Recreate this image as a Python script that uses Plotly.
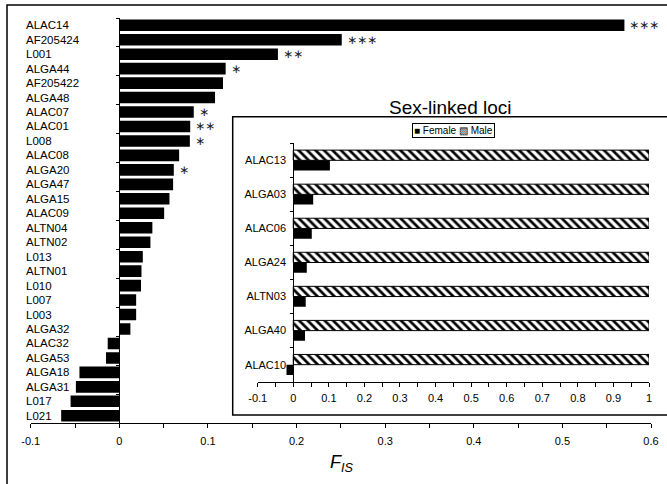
import plotly.graph_objects as go

W, H = 667, 484

# ---------------- data ----------------
main_loci = ["ALAC14", "AF205424", "L001", "ALGA44", "AF205422", "ALGA48", "ALAC07",
             "ALAC01", "L008", "ALAC08", "ALGA20", "ALGA47", "ALGA15", "ALAC09",
             "ALTN04", "ALTN02", "L013", "ALTN01", "L010", "L007", "L003", "ALGA32",
             "ALAC32", "ALGA53", "ALGA18", "ALGA31", "L017", "L021"]
main_fis = [0.570, 0.251, 0.179, 0.120, 0.117, 0.108, 0.084,
            0.080, 0.0796, 0.0675, 0.0615, 0.0607, 0.0566, 0.0506,
            0.0373, 0.0351, 0.0265, 0.025, 0.0245, 0.019, 0.019, 0.0125,
            -0.0131, -0.015, -0.045, -0.049, -0.055, -0.0656]
signif = ["***", "***", "**", "*", "", "", "*",
          "**", "*", "", "*", "", "", "",
          "", "", "", "", "", "", "", "",
          "", "", "", "", "", ""]

sex_loci = ["ALAC13", "ALGA03", "ALAC06", "ALGA24", "ALTN03", "ALGA40", "ALAC10"]
female_fis = [0.103, 0.056, 0.052, 0.038, 0.035, 0.033, -0.019]
male_fis = [1, 1, 1, 1, 1, 1, 1]

main_tickvals = [-0.1, 0, 0.1, 0.2, 0.3, 0.4, 0.5, 0.6]
main_ticktext = ["-0.1", "0", "0.1", "0.2", "0.3", "0.4", "0.5", "0.6"]
inset_tickvals = [-0.1, 0, 0.1, 0.2, 0.3, 0.4, 0.5, 0.6, 0.7, 0.8, 0.9, 1]
inset_ticktext = ["-0.1", "0", "0.1", "0.2", "0.3", "0.4", "0.5", "0.6", "0.7", "0.8", "0.9", "1"]

# ---------------- helpers ----------------
def px(x):
    return x / W

def py(y):
    return 1 - y / H

FONT = "Liberation Sans, Arial, Helvetica, sans-serif"

main_xdom = [px(30.7), px(651)]
main_ydom = [py(423), py(18)]
inset_xdom = [px(257.7), px(649)]
inset_ydom = [py(381.7), py(143.3)]

main_range = [-0.1, 0.6]
inset_range = [-0.1, 1.0]
main_zero_pos = main_xdom[0] + (0 - main_range[0]) / (main_range[1] - main_range[0]) * (main_xdom[1] - main_xdom[0])
inset_zero_pos = inset_xdom[0] + (0 - inset_range[0]) / (inset_range[1] - inset_range[0]) * (inset_xdom[1] - inset_xdom[0])

fig = go.Figure()

# main bars
fig.add_trace(go.Bar(
    y=main_loci, x=main_fis, orientation="h",
    marker=dict(color="black", line=dict(width=0)),
    width=0.8, xaxis="x", yaxis="y", showlegend=False, hoverinfo="x+y",
))

# inset bars
fig.add_trace(go.Bar(
    y=sex_loci, x=male_fis, orientation="h", name="Male",
    marker=dict(color="white", line=dict(color="black", width=1),
                pattern=dict(shape="\\", fgcolor="black", bgcolor="white", size=6, solidity=0.45)),
    width=0.30, offset=-0.30, xaxis="x2", yaxis="y2", showlegend=False,
))
fig.add_trace(go.Bar(
    y=sex_loci, x=female_fis, orientation="h", name="Female",
    marker=dict(color="black", line=dict(width=0)),
    width=0.30, offset=0.0, xaxis="x2", yaxis="y2", showlegend=False,
))

annotations = []
# main category labels (left aligned)
for loc in main_loci:
    annotations.append(dict(
        x=px(24), xref="paper", xanchor="left", y=loc, yref="y", yanchor="middle",
        text=loc, showarrow=False, font=dict(family=FONT, size=11.5, color="black"),
    ))
# significance asterisks
for loc, v, s in zip(main_loci, main_fis, signif):
    if s:
        annotations.append(dict(
            x=v, xref="x", xanchor="left", xshift=3, y=loc, yref="y", yanchor="middle",
            text="∗" * len(s), showarrow=False,
            font=dict(family="DejaVu Sans", size=12, color="#222"),
        ))

annotations += [
    dict(x=px(450.5), y=py(107), xref="paper", yref="paper", text="Sex-linked loci",
         showarrow=False, font=dict(family=FONT, size=19, color="black"),
         xanchor="center", yanchor="middle"),
    dict(x=px(453.3), y=py(130.5), xref="paper", yref="paper",
         text="■ Female ▧ Male", showarrow=False,
         font=dict(family=FONT, size=10, color="black"),
         bordercolor="black", borderwidth=1, borderpad=1, bgcolor="white",
         xanchor="center", yanchor="middle"),
    dict(x=px(341), y=py(463), xref="paper", yref="paper",
         text="<i>F<sub>IS</sub></i>", showarrow=False,
         font=dict(family=FONT, size=18, color="black"),
         xanchor="center", yanchor="middle"),
]

shapes = [
    # outer frame
    dict(type="rect", xref="paper", yref="paper", x0=px(7), y0=-0.05, x1=1.05, y1=py(5),
         line=dict(color="black", width=1.5), fillcolor="rgba(0,0,0,0)", layer="below"),
    # inset frame
    dict(type="rect", xref="paper", yref="paper", x0=px(232.7), y0=py(415), x1=1.05, y1=py(116.7),
         line=dict(color="black", width=1.5), fillcolor="white", layer="below"),
]

axis_font = dict(family=FONT, size=11, color="black")

fig.update_layout(
    template="none",
    width=W, height=H, autosize=False,
    margin=dict(l=0, r=0, t=0, b=0, pad=0, autoexpand=False),
    paper_bgcolor="white", plot_bgcolor="rgba(0,0,0,0)",
    barmode="overlay",
    showlegend=False,
    font=dict(family=FONT, color="black"),
    xaxis=dict(domain=main_xdom, range=main_range, anchor="y", automargin=False,
               tickvals=main_tickvals, ticktext=main_ticktext,
               ticks="outside", ticklen=4, tickcolor="black", tickwidth=1,
               minor=dict(tickvals=[-0.05, 0.05, 0.15, 0.25, 0.35, 0.45, 0.55],
                          ticks="outside", ticklen=4, tickcolor="black"),
               showline=True, linecolor="black", linewidth=1,
               showgrid=False, zeroline=False, tickfont=axis_font,
               ticklabelstandoff=4),
    yaxis=dict(domain=main_ydom, type="category", categoryorder="array", automargin=False,
               categoryarray=main_loci, range=[len(main_loci) - 0.5, -0.5],
               anchor="free", position=main_zero_pos,
               showticklabels=False, ticks="outside", ticklen=3, tickson="boundaries",
               tickcolor="black", showline=True, linecolor="black", linewidth=1,
               showgrid=False, zeroline=False),
    xaxis2=dict(domain=inset_xdom, range=inset_range, anchor="y2", automargin=False,
                tickvals=inset_tickvals, ticktext=inset_ticktext,
                ticks="outside", ticklen=4, tickcolor="black",
                minor=dict(tickvals=[-0.05, 0.05, 0.15, 0.25, 0.35, 0.45, 0.55, 0.65, 0.75, 0.85, 0.95],
                           ticks="outside", ticklen=4, tickcolor="black"),
                showline=True, linecolor="black", linewidth=1,
                showgrid=False, zeroline=False, tickfont=axis_font,
                ticklabelstandoff=2),
    yaxis2=dict(domain=inset_ydom, type="category", categoryorder="array", automargin=False,
                categoryarray=sex_loci, range=[len(sex_loci) - 0.5, -0.5],
                anchor="free", position=inset_zero_pos,
                ticks="outside", ticklen=3, tickson="boundaries", tickcolor="black",
                showline=True, linecolor="black", linewidth=1,
                showgrid=False, zeroline=False, tickfont=axis_font,
                ticklabelstandoff=5),
    annotations=annotations,
    shapes=shapes,
)

fig.write_html("out.html",
               config={"displayModeBar": False},
               post_script="document.body.style.margin='0px';document.body.style.overflow='hidden';")
